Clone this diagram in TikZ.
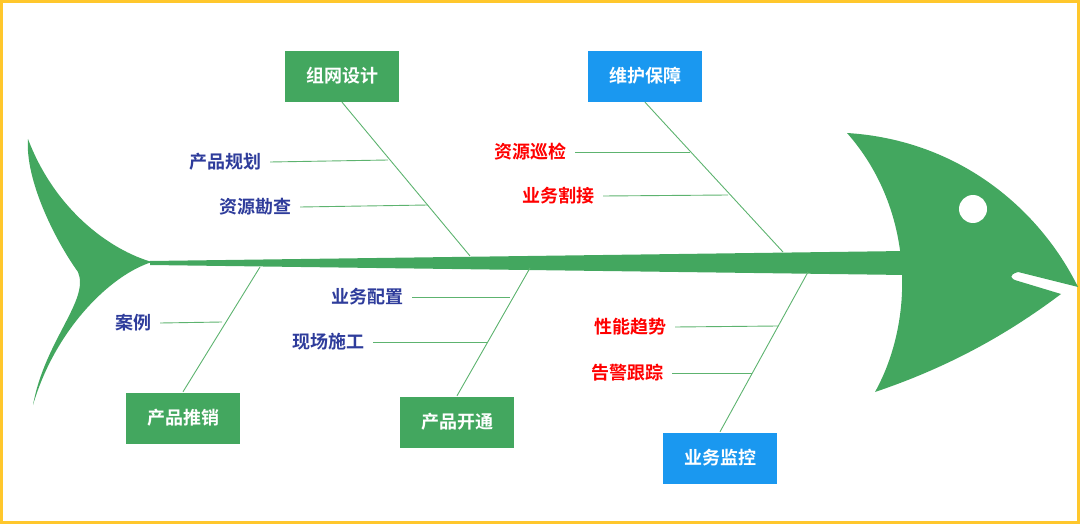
\documentclass[tikz,border=0pt]{standalone}
\usepackage{fontspec}
\newfontfamily\cjk{Noto Sans CJK SC}[BoldFont={Noto Sans CJK SC Bold}]
\usetikzlibrary{positioning}
\definecolor{fishgreen}{HTML}{43A75F}
\definecolor{bonegreen}{HTML}{5DB36F}
\definecolor{boxblue}{HTML}{1A98F0}
\definecolor{navy}{HTML}{2E3C9B}
\definecolor{frame}{HTML}{FFC72C}
\begin{document}
\begin{tikzpicture}
  [
  x=1pt, y=-1pt,
  every node/.style={font=\cjk\bfseries\fontsize{18}{21}\selectfont},
  green box/.style={fill=fishgreen, draw=white, text=white, minimum width=115pt, minimum height=52pt, inner sep=2pt},
  blue box/.style={green box, fill=boxblue},
  cause/.style={text=navy, inner sep=1pt},
  red cause/.style={text=red, inner sep=1pt},
  bone/.style={bonegreen, line width=0.9pt}
  ]
  \useasboundingbox (0,0) rectangle (1080,524);
  \draw[frame, line width=3pt] (1.5,1.5) rectangle (1078.5,522.5);

  % fish body
  \fill[fishgreen] (28,139) .. controls (55,210) and (110,250) .. (152,262)
    .. controls (110,275) and (55,330) .. (33,405)
    .. controls (45,340) and (90,300) .. (78,272)
    .. controls (55,240) and (25,180) .. (28,139) -- cycle;
  \fill[fishgreen] (150,261) -- (905,251) -- (905,275) -- (150,265) -- cycle;
  \fill[fishgreen] (847,133) .. controls (960,140) and (1040,210) .. (1078,287)
    -- (1018,272) .. controls (1008,275) and (1010,279) .. (1018,281)
    -- (1061,294) .. controls (1000,340) and (940,370) .. (875,392)
    .. controls (915,320) and (915,210) .. (847,133) -- cycle;
  \fill[white] (973,209) circle (14);

  % main causes
  \node[green box] (net)  at (342,76)  {组网设计};
  \node[blue box]  (keep) at (645,76)  {维护保障};
  \node[green box] (sale) at (183,418) {产品推销};
  \node[green box] (open) at (457,422) {产品开通};
  \node[blue box]  (mon)  at (720,458) {业务监控};

  \coordinate (s1) at (470,256);
  \coordinate (s2) at (783,252);
  \coordinate (s3) at (260,267);
  \coordinate (s4) at (530,268);
  \coordinate (s5) at (808,272);
  \draw[bone] (net.south)  -- (s1);
  \draw[bone] (keep.south) -- (s2);
  \draw[bone] (sale.north) -- (s3);
  \draw[bone] (open.north) -- (s4);
  \draw[bone] (mon.north)  -- (s5);

  % sub causes
  \node[cause]     (plan)  at (225,162) {产品规划};
  \node[cause]     (surv)  at (255,207) {资源勘查};
  \node[red cause] (insp)  at (530,152) {资源巡检};
  \node[red cause] (cut)   at (558,196) {业务割接};
  \node[cause]     (case)  at (133,323) {案例};
  \node[cause]     (conf)  at (367,297) {业务配置};
  \node[cause]     (work)  at (328,342) {现场施工};
  \node[red cause] (trend) at (630,327) {性能趋势};
  \node[red cause] (alarm) at (627,373) {告警跟踪};

  \draw[bone] (plan.east)  ++(8,0) -- (388,160);
  \draw[bone] (surv.east)  ++(8,0) -- (428,205);
  \draw[bone] (insp.east)  ++(8,0) -- (690,152);
  \draw[bone] (cut.east)   ++(8,0) -- (728,195);
  \draw[bone] (case.east)  ++(8,0) -- (222,322);
  \draw[bone] (conf.east)  ++(8,0) -- (510,297);
  \draw[bone] (work.east)  ++(8,0) -- (487,342);
  \draw[bone] (trend.east) ++(8,0) -- (778,326);
  \draw[bone] (alarm.east) ++(8,0) -- (752,373);
\end{tikzpicture}
\end{document}
